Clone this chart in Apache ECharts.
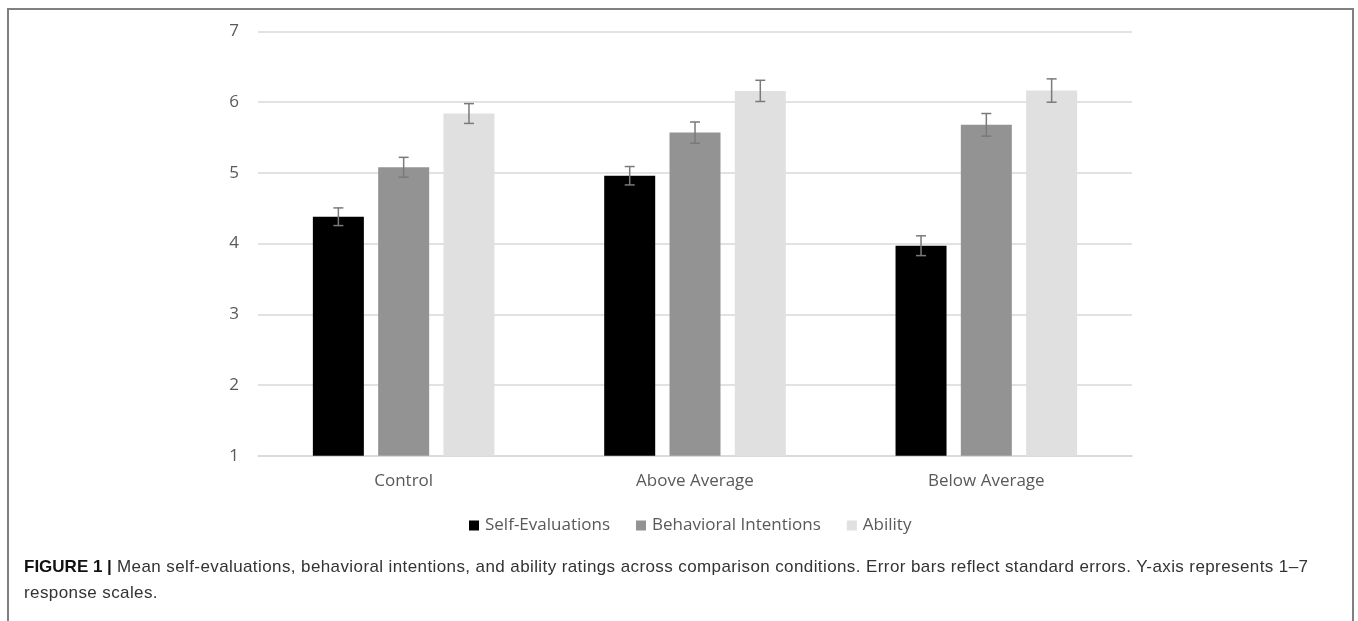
<!DOCTYPE html>
<html>
<head>
<meta charset="utf-8">
<script src="https://cdn.jsdelivr.net/npm/echarts@6/dist/echarts.min.js"></script>
<style>
  html, body { margin:0; padding:0; background:#fff; }
  #wrap { position:relative; width:1358px; height:621px; overflow:hidden; }
  #chart { position:absolute; left:0; top:0; width:1358px; height:621px; }
  #frame { position:absolute; left:7px; top:8px; width:1343px; height:640px;
           border:2px solid #808080; border-bottom:none; pointer-events:none; }
  #caption { position:absolute; left:24px; top:554px; font-family:'Liberation Sans', Arial, sans-serif;
             font-size:17px; letter-spacing:0.4px; line-height:26px; color:#333; white-space:nowrap; }
  #caption b { color:#111; letter-spacing:0; }
</style>
</head>
<body>
<div id="wrap">
  <div id="chart"></div>
  <div id="frame"></div>
  <div id="caption"><b>FIGURE 1 |</b> Mean self-evaluations, behavioral intentions, and ability ratings across comparison conditions. Error bars reflect standard errors. Y-axis represents 1–7<br>response scales.</div>
</div>
<script>
const categories = ['Control', 'Above Average', 'Below Average'];
const seriesNames = ['Self-Evaluations', 'Behavioral Intentions', 'Ability'];
const selfEval = [4.38, 4.96, 3.97];
const behavioral = [5.08, 5.57, 5.68];
const ability = [5.84, 6.16, 6.165];
const selfEvalSE = [0.125, 0.13, 0.14];
const behavioralSE = [0.14, 0.15, 0.16];
const abilitySE = [0.14, 0.15, 0.165];
const yTicks = [1, 2, 3, 4, 5, 6, 7];

const means = [selfEval, behavioral, ability];
const ses = [selfEvalSE, behavioralSE, abilitySE];
const colors = ['#000000', '#939393', '#e0e0e0'];
const BAR_W = 51, GAP = 14.3;

const chart = echarts.init(document.getElementById('chart'));
const font = "'Open Sans', 'Noto Sans', sans-serif";

const barSeries = seriesNames.map((n, s) => ({
  name: n, type: 'bar', data: means[s], barWidth: BAR_W, barGap: (GAP / BAR_W * 100) + '%',
  itemStyle: { color: colors[s] }, z: 2
}));

const errData = [];
means.forEach((arr, s) => arr.forEach((v, i) => errData.push([i, v, ses[s][i], s - 1])));

const errSeries = {
  type: 'custom', z: 5, silent: true,
  data: errData,
  renderItem: function (params, api) {
    const i = api.value(0), m = api.value(1), se = api.value(2), off = api.value(3);
    const t = api.coord([i, m + se]), b = api.coord([i, m - se]);
    const x = t[0] + off * (BAR_W + GAP);
    const cw = 5;
    const st = { stroke: '#7a7a7a', lineWidth: 1.5, fill: null };
    return { type: 'group', children: [
      { type: 'line', shape: { x1: x, y1: t[1], x2: x, y2: b[1] }, style: st },
      { type: 'line', shape: { x1: x - cw, y1: t[1], x2: x + cw, y2: t[1] }, style: st },
      { type: 'line', shape: { x1: x - cw, y1: b[1], x2: x + cw, y2: b[1] }, style: st }
    ]};
  }
};

chart.setOption({
  animation: false,
  grid: { left: 258, right: 226, top: 31.5, bottom: 165.3, containLabel: false },
  legend: {
    data: seriesNames, left: 464, top: 512, icon: 'rect',
    itemWidth: 10, itemHeight: 10, itemGap: 26,
    textStyle: { fontFamily: font, fontSize: 17, color: '#595959', padding: [0, 0, 0, 1] }
  },
  xAxis: {
    type: 'category', data: categories,
    axisLine: { lineStyle: { color: '#d9d9d9', width: 1.5 } },
    axisTick: { show: false },
    axisLabel: { fontFamily: font, fontSize: 17, color: '#595959', margin: 17 }
  },
  yAxis: {
    type: 'value', min: yTicks[0], max: yTicks[yTicks.length - 1], interval: 1,
    axisLine: { show: false }, axisTick: { show: false },
    splitLine: { lineStyle: { color: '#d9d9d9', width: 1.5 } },
    axisLabel: { fontFamily: font, fontSize: 17, color: '#595959', margin: 19 }
  },
  series: [...barSeries, errSeries]
});
</script>
</body>
</html>
